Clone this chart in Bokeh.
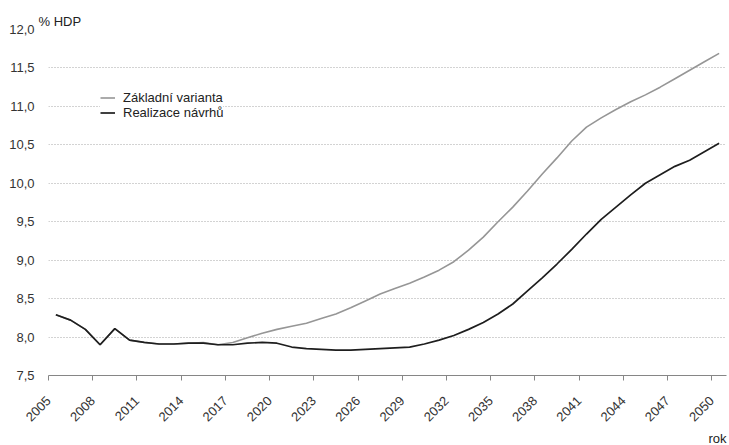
from bokeh.plotting import figure
from bokeh.models import (FixedTicker, CustomJSTickFormatter, Legend, LegendItem,
                          Title, Range1d)
from bokeh.embed import file_html
from bokeh.resources import INLINE
import math

# Pension expenditure, % of GDP
years = list(range(2005, 2051))

zakladni = [8.29, 8.22, 8.10, 7.90, 8.11, 7.96, 7.93, 7.91, 7.91, 7.92,
            7.93, 7.90, 7.93, 7.99, 8.05, 8.10, 8.14, 8.18, 8.24, 8.30,
            8.38, 8.47, 8.56, 8.63, 8.70, 8.78, 8.87, 8.98, 9.13, 9.30,
            9.50, 9.69, 9.90, 10.12, 10.33, 10.55, 10.73, 10.85, 10.96, 11.06,
            11.15, 11.25, 11.36, 11.47, 11.58, 11.69]

realizace = [8.29, 8.22, 8.10, 7.90, 8.11, 7.96, 7.93, 7.91, 7.91, 7.92,
             7.92, 7.90, 7.90, 7.92, 7.93, 7.92, 7.87, 7.85, 7.84, 7.83,
             7.83, 7.84, 7.85, 7.86, 7.87, 7.91, 7.96, 8.02, 8.10, 8.19,
             8.30, 8.43, 8.60, 8.77, 8.95, 9.14, 9.34, 9.53, 9.69, 9.85,
             10.00, 10.11, 10.22, 10.30, 10.41, 10.52]

tick_years = list(range(2005, 2051, 3))
y_ticks = [7.5, 8.0, 8.5, 9.0, 9.5, 10.0, 10.5, 11.0, 11.5, 12.0]

FONT = "Liberation Sans"

p = figure(width=729, height=445, output_backend="svg", toolbar_location=None,
           x_range=Range1d(2004.5, 2050.5), y_range=Range1d(7.5, 12.0),
           min_border_left=48, min_border_right=3, min_border_top=29,
           min_border_bottom=70)
p.outline_line_color = None
p.background_fill_color = "white"

# y-axis unit shown as a left-aligned heading
p.title.text = "% HDP"
p.title.align = "left"
p.title.offset = -10
p.title.text_font = FONT
p.title.text_font_size = "13px"
p.title.text_font_style = "normal"
p.title.text_color = "#222222"
p.title.standoff = 2

# category-style axis: ticks sit on the boundaries between years
p.xaxis.ticker = FixedTicker(ticks=[y - 0.5 for y in tick_years])
p.xaxis.formatter = CustomJSTickFormatter(code="return (tick + 0.5).toFixed(0);")
p.xaxis.major_label_orientation = math.pi / 4
p.xaxis.axis_line_color = "#868686"
p.xaxis.major_tick_line_color = "#868686"
p.xaxis.major_tick_in = 0
p.xaxis.major_tick_out = 5
p.xaxis.minor_tick_line_color = None
p.xaxis.major_label_text_font = FONT
p.xaxis.major_label_text_font_size = "13px"
p.xaxis.major_label_text_color = "#333333"
p.xaxis.major_label_standoff = 18
p.xgrid.grid_line_color = None

p.yaxis.ticker = FixedTicker(ticks=y_ticks)
p.yaxis.formatter = CustomJSTickFormatter(code="return tick.toFixed(1).replace('.', ',');")
p.yaxis.axis_line_color = None
p.yaxis.major_tick_line_color = None
p.yaxis.minor_tick_line_color = None
p.yaxis.major_label_text_font = FONT
p.yaxis.major_label_text_font_size = "13px"
p.yaxis.major_label_text_color = "#333333"
p.yaxis.major_label_standoff = 8
p.ygrid.grid_line_color = "#a6a6a6"
p.ygrid.grid_line_dash = "1 2"
p.ygrid.grid_line_width = 1

r1 = p.line(years, zakladni, line_color="#969696", line_width=1.6)
r2 = p.line(years, realizace, line_color="#1e1e1e", line_width=1.7)

legend = Legend(items=[LegendItem(label="Základní varianta", renderers=[r1]),
                       LegendItem(label="Realizace návrhů", renderers=[r2])],
                location=(52, 255), padding=20, spacing=-3, margin=0,
                glyph_width=15, glyph_height=13, label_height=13,
                label_standoff=8, label_text_font=FONT,
                label_text_font_size="13px", label_text_color="#222222",
                border_line_color=None, background_fill_color="white",
                background_fill_alpha=1.0)
p.add_layout(legend, "center")

# horizontal-axis unit, bottom right
p.add_layout(Title(text="rok", align="right", text_font=FONT,
                   text_font_size="13px", text_font_style="normal",
                   text_color="#222222", standoff=0), "below")

open("out.html", "w").write(file_html(p, INLINE))
